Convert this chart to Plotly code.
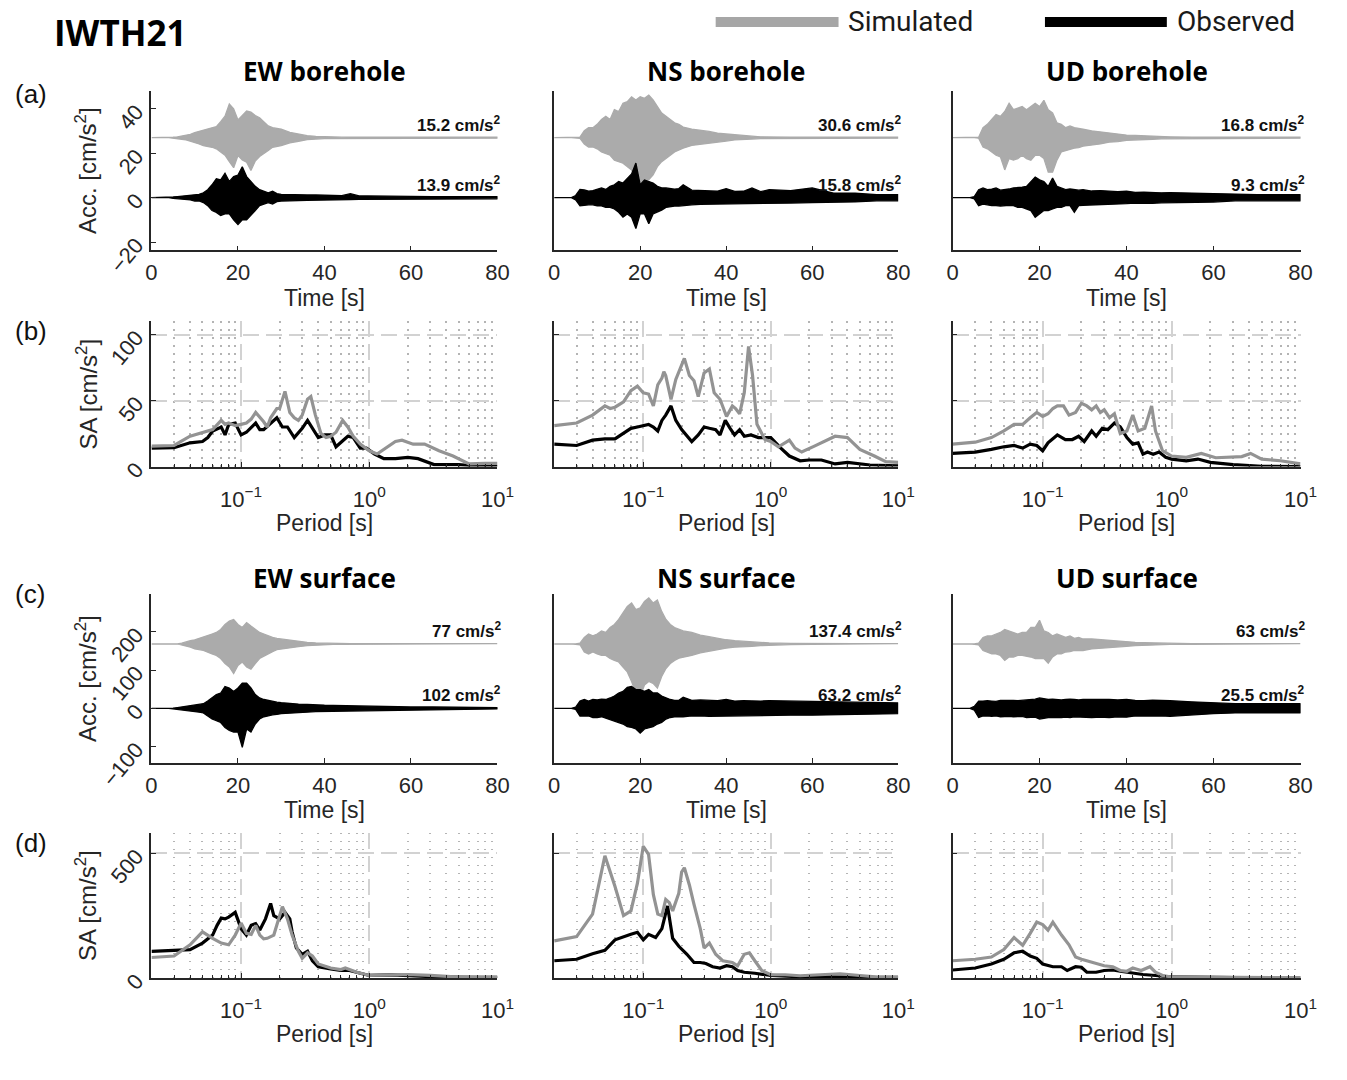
import math
import plotly.graph_objects as go

W, H = 1347, 1080

# ---------------- data: acceleration envelopes (cm/s^2) ----------------
TIME = [0, 4,
        5, 6, 7, 8, 9, 10, 11, 12, 13, 14,
        15, 16, 17, 18, 19, 20, 21, 22, 23, 24,
        25, 26, 27, 28, 29, 30,
        32, 34, 36, 38, 40, 42, 44, 46, 48, 50,
        55, 60, 65, 70, 75, 80]

EW_BH_SIM_UP = [0, 0,
                0.2, 0.4, 0.7, 1.0, 1.5, 2.3, 2.8, 3.5, 3.8, 4.5,
                5.0, 7.2, 9.7, 15.2, 13.0, 8.0, 10.0, 12.0, 11.5, 10.0,
                9.0, 7.0, 5.3, 4.5, 4.0, 3.8,
                2.4, 1.6, 0.9, 0.6, 0.4, 0.3, 0.25, 0.2, 0.2, 0.2,
                0.2, 0.2, 0.2, 0.2, 0.2, 0.2]
EW_BH_SIM_LO = [0, 0,
                -0.2, -0.4, -0.7, -1.0, -1.5, -2.2, -2.8, -3.6, -4.0, -4.3,
                -5.0, -6.4, -7.9, -10.8, -13.5, -8.0, -10.0, -11.0, -14.8, -10.5,
                -8.5, -7.0, -5.8, -4.3, -4.0, -3.6,
                -2.3, -1.6, -0.9, -0.6, -0.4, -0.3, -0.25, -0.2, -0.2, -0.2,
                -0.2, -0.2, -0.2, -0.2, -0.2, -0.2]
EW_BH_OBS_UP = [0, 0,
                0.3, 0.5, 0.7, 0.9, 1.0, 1.5, 1.5, 2.2, 3.6, 5.8,
                8.5, 8.0, 11.0, 7.3, 9.5, 10.2, 13.9, 9.5, 7.3, 5.1,
                3.6, 2.9, 2.2, 2.9, 1.8, 1.5,
                1.3, 1.3, 1.2, 1.2, 1.0, 0.9, 0.9, 1.8, 0.8, 0.8,
                0.6, 0.6, 0.5, 0.5, 0.5, 0.5]
EW_BH_OBS_LO = [0, 0,
                -0.3, -0.5, -0.7, -0.9, -1.0, -1.5, -1.5, -2.2, -3.6, -5.8,
                -6.6, -8.0, -7.3, -7.3, -10.0, -12.1, -10.0, -10.0, -8.0, -5.8,
                -3.6, -2.9, -2.2, -2.9, -1.8, -1.5,
                -1.3, -1.3, -1.2, -1.2, -1.0, -0.9, -0.9, -0.9, -0.8, -0.8,
                -0.6, -0.6, -0.5, -0.5, -0.5, -0.5]

NS_BH_SIM_UP = [0, 0,
                0, 0.3, 3.1, 4.5, 4.5, 6.0, 8.2, 9.6, 8.2, 12.6,
                11.8, 15.5, 16.2, 18.4, 17.0, 18.4, 17.7, 19.2, 17.0, 14.0,
                11.1, 9.6, 8.2, 6.7, 6.0, 4.8,
                3.8, 3.4, 2.8, 2.0, 1.6, 1.2, 0.9, 0.7, 0.4, 0.3,
                0.2, 0.2, 0.2, 0.2, 0.2, 0.2]
NS_BH_SIM_LO = [0, 0,
                0, -0.3, -2.8, -4.2, -4.2, -5.0, -6.4, -7.2, -7.9, -10.1,
                -10.8, -11.5, -13.0, -14.5, -18.1, -30.6, -19.6, -18.9, -16.7, -13.0,
                -10.8, -9.4, -7.9, -6.4, -5.7, -4.7,
                -3.5, -3.2, -2.6, -2.0, -1.5, -1.0, -0.7, -0.6, -0.4, -0.3,
                -0.2, -0.2, -0.2, -0.2, -0.2, -0.2]
NS_BH_OBS_UP = [0, 0,
                1.0, 3.7, 3.5, 2.9, 3.2, 3.7, 4.4, 3.7, 5.1, 5.8,
                7.3, 6.6, 8.8, 10.7, 15.6, 5.8, 8.0, 7.3, 6.6, 5.1,
                4.4, 4.4, 4.1, 3.8, 4.1, 5.8,
                3.4, 3.2, 3.0, 2.9, 4.1, 2.8, 2.9, 4.4, 2.7, 3.6,
                3.2, 4.4, 2.0, 2.0, 1.4, 1.4]
NS_BH_OBS_LO = [0, 0,
                -1.0, -3.7, -3.5, -3.2, -3.2, -3.7, -3.7, -4.4, -4.4, -5.1,
                -6.6, -8.8, -7.3, -8.8, -13.9, -7.3, -7.3, -11.7, -7.3, -6.6,
                -5.6, -4.4, -4.1, -3.8, -3.8, -3.8,
                -3.2, -3.0, -2.8, -2.8, -2.8, -2.7, -2.7, -2.5, -2.5, -2.5,
                -2.4, -2.2, -1.9, -1.9, -1.4, -1.4]

UD_BH_SIM_UP = [0, 0,
                0, 0.2, 4.5, 6.0, 8.2, 10.4, 9.6, 11.8, 15.5, 12.6,
                13.3, 14.0, 12.6, 14.0, 15.5, 14.0, 16.8, 12.6, 11.1, 6.7,
                6.0, 4.5, 5.3, 4.5, 4.3, 3.8,
                3.1, 2.6, 2.0, 1.6, 1.2, 1.0, 0.8, 0.7, 0.5, 0.4,
                0.2, 0.2, 0.2, 0.2, 0.2, 0.2]
UD_BH_SIM_LO = [0, 0,
                0, -0.2, -4.2, -5.0, -6.4, -7.9, -8.6, -14.5, -9.4, -10.1,
                -9.4, -7.9, -9.4, -10.1, -7.9, -7.9, -9.4, -15.5, -15.5, -10.1,
                -6.4, -5.7, -5.3, -4.7, -4.5, -3.8,
                -3.2, -2.8, -2.0, -1.8, -1.2, -1.0, -0.8, -0.7, -0.5, -0.4,
                -0.2, -0.2, -0.2, -0.2, -0.2, -0.2]
UD_BH_OBS_UP = [0, 0,
                0.5, 3.6, 4.4, 3.6, 3.8, 4.4, 3.4, 3.6, 3.9, 4.4,
                4.4, 4.7, 5.1, 7.3, 9.3, 8.0, 7.3, 5.1, 8.8, 5.1,
                4.4, 3.6, 3.9, 3.6, 3.4, 3.6,
                3.0, 3.2, 2.9, 2.7, 2.9, 2.4, 2.5, 2.3, 2.2, 2.3,
                2.0, 2.0, 1.4, 1.4, 1.4, 1.4]
UD_BH_OBS_LO = [0, 0,
                -0.5, -3.6, -2.9, -3.2, -3.6, -3.6, -3.8, -3.6, -3.4, -3.6,
                -4.4, -4.4, -5.1, -5.8, -8.8, -7.3, -5.8, -5.8, -5.1, -4.4,
                -4.4, -3.6, -3.6, -6.6, -3.6, -3.4,
                -3.0, -2.9, -3.0, -2.8, -2.7, -2.4, -2.3, -2.5, -2.3, -2.2,
                -2.0, -2.0, -1.4, -1.4, -1.4, -1.4]

EW_SF_SIM_UP = [0, 0,
                0, 0, 2, 6, 8.5, 11, 14.5, 17, 21, 26,
                30, 38, 51, 60, 64, 51, 43, 56, 47, 38,
                30, 26, 21, 17, 14.5, 13,
                9.4, 7, 4.3, 2.6, 1.7, 1.2, 1.0, 0.8, 0.8, 0.8,
                0.8, 0.8, 0.8, 0.8, 0.8, 0.8]
EW_SF_SIM_LO = [0, 0,
                0, 0, -2, -6, -8.5, -13, -14.5, -17, -21, -26,
                -30, -38, -51, -60, -77, -56, -47, -60, -66, -51,
                -38, -30, -26, -20, -15, -13,
                -10, -7, -4.3, -2.6, -1.7, -1.2, -1.0, -0.8, -0.8, -0.8,
                -0.8, -0.8, -0.8, -0.8, -0.8, -0.8]
EW_SF_OBS_UP = [0, 0,
                0.5, 2, 3.5, 5, 7, 8.5, 10, 12, 19, 27,
                36, 40, 57, 53, 44, 53, 66, 66, 53, 36,
                27, 23, 20, 17, 16, 14.5,
                12, 11, 10, 8.5, 8, 7.5, 7, 7, 6, 5,
                5, 3.5, 3.5, 2.6, 2.5, 1.7]
EW_SF_OBS_LO = [0, 0,
                -0.5, -2, -3.5, -5, -7, -8.5, -10, -12, -20, -28,
                -32, -37, -50, -58, -62, -62, -102, -54, -62, -41,
                -28, -22, -20, -17, -16, -14,
                -12, -11, -10, -8.5, -7, -7, -6.5, -6.5, -6, -5,
                -5, -3.5, -3.5, -2.6, -2.5, -1.7]

NS_SF_SIM_UP = [0, 0,
                0, 2, 17, 26, 21, 26, 34, 30, 43, 51,
                64, 81, 98, 107, 90, 94, 111, 120, 107, 115,
                85, 64, 51, 43, 38, 34,
                30, 23, 19, 14.5, 11, 8.5, 7, 6, 4.3, 2.6,
                1.5, 0.8, 0.8, 0.8, 0.8, 0.8]
NS_SF_SIM_LO = [0, 0,
                0, -2, -21, -26, -21, -26, -30, -30, -38, -43,
                -47, -60, -73, -98, -128, -137, -107, -98, -103, -115,
                -85, -64, -51, -43, -37, -34,
                -30, -23, -19, -14.5, -11, -8.5, -7, -6, -4.3, -2.6,
                -1.5, -0.8, -0.8, -0.8, -0.8, -0.8]
NS_SF_OBS_UP = [0, 0,
                3, 19, 23, 19, 23, 22, 24, 23, 27, 32,
                40, 44, 55, 57, 49, 49, 44, 49, 40, 40,
                32, 27, 23, 21, 21, 29,
                21, 22, 21, 20, 23, 19, 20, 19, 19, 20,
                19, 19, 17, 17, 15, 14]
NS_SF_OBS_LO = [0, 0,
                -3, -20, -20, -20, -24, -24, -22, -24, -28, -32,
                -37, -41, -48, -50, -54, -65, -54, -50, -48, -41,
                -37, -28, -24, -22, -22, -22,
                -20, -20, -21, -20, -20, -19, -19, -18, -19, -19,
                -18, -18, -17, -17, -15, -14]

UD_SF_SIM_UP = [0, 0,
                0, 2, 17, 21, 21, 26, 30, 38, 34, 30,
                26, 30, 30, 43, 43, 62, 34, 30, 21, 26,
                21, 17, 21, 14.5, 17, 13,
                13, 11, 8.5, 7, 6, 4.3, 3.4, 2.6, 1.7, 1.2,
                0.8, 0.8, 0.8, 0.8, 0.8, 0.8]
UD_SF_SIM_LO = [0, 0,
                0, -2, -17, -21, -26, -26, -30, -43, -34, -34,
                -30, -30, -32, -34, -38, -38, -38, -50, -34, -26,
                -26, -21, -20, -17, -17, -17,
                -13, -11, -10, -8, -6, -4.3, -3.4, -2.6, -1.7, -1.2,
                -0.8, -0.8, -0.8, -0.8, -0.8, -0.8]
UD_SF_OBS_UP = [0, 0,
                5, 19, 19, 20, 19, 18, 21, 21, 22, 21,
                20, 21, 23, 23, 24, 27, 25, 23, 24, 23,
                22, 23, 24, 23, 22, 23,
                23, 24, 23, 22, 23, 21, 20, 21, 21, 20,
                17, 14.5, 12, 12, 12, 12]
UD_SF_OBS_LO = [0, 0,
                -5, -24, -20, -20, -21, -20, -22, -22, -21, -22,
                -22, -21, -24, -24, -23, -28, -26, -24, -23, -24,
                -24, -23, -24, -22, -24, -23,
                -24, -23, -24, -22, -23, -20, -21, -20, -20, -21,
                -17, -14, -12, -12, -12, -12]

SIM_OFFSET_BH = 27
SIM_OFFSET_SF = 168

SIM_PGA_BH = ["15.2", "30.6", "16.8"]
OBS_PGA_BH = ["13.9", "15.8", "9.3"]
SIM_PGA_SF = ["77", "137.4", "63"]
OBS_PGA_SF = ["102", "63.2", "25.5"]

# ---------------- data: response spectra (cm/s^2) ----------------
EW_BH_SA_SIM_P = [0.02, 0.03, 0.04, 0.05, 0.06, 0.07, 0.075, 0.08, 0.09, 0.1,
                  0.11, 0.12, 0.13, 0.15, 0.16, 0.17, 0.19, 0.2, 0.22, 0.24,
                  0.26, 0.28, 0.3, 0.33, 0.35, 0.38, 0.42, 0.46, 0.5, 0.55,
                  0.62, 0.68, 0.75, 0.85, 1.0, 1.15, 1.3, 1.6, 1.8, 2.2,
                  2.7, 3.5, 4.5, 6, 8, 10]
EW_BH_SA_SIM = [15.5, 16, 23, 26, 28, 35, 32, 33, 31, 32,
                33, 36, 41, 34, 30, 37, 44, 44, 57, 41,
                37, 35, 39, 51, 53, 39, 25, 22, 23, 26,
                35, 30, 23, 17, 12, 9.5, 13, 19, 20, 17,
                17, 12, 8, 2, 2.5, 2.5]
EW_BH_SA_OBS_P = [0.02, 0.03, 0.04, 0.05, 0.055, 0.06, 0.07, 0.075, 0.08, 0.09,
                  0.1, 0.11, 0.13, 0.14, 0.15, 0.17, 0.19, 0.21, 0.23, 0.26,
                  0.3, 0.33, 0.36, 0.4, 0.45, 0.5, 0.55, 0.6, 0.68, 0.75,
                  0.85, 0.95, 1.1, 1.3, 1.6, 2.0, 2.4, 3.2, 5, 7, 10]
EW_BH_SA_OBS = [14, 14.3, 18, 19, 22, 27, 30, 24, 32, 33,
                24, 26, 33, 28, 28, 33, 37, 30, 30, 22,
                29, 35, 29, 22, 24, 24, 15, 18, 23, 22,
                14, 14, 9.5, 6, 6, 7, 6, 1.5, 1.5, 0.2, 0]

NS_BH_SA_SIM_P = [0.02, 0.03, 0.04, 0.05, 0.055, 0.06, 0.07, 0.08, 0.09, 0.1,
                  0.11, 0.12, 0.13, 0.14, 0.145, 0.15, 0.165, 0.18, 0.21, 0.23,
                  0.25, 0.27, 0.3, 0.33, 0.36, 0.4, 0.45, 0.5, 0.53, 0.57,
                  0.62, 0.67, 0.72, 0.78, 0.9, 1.0, 1.15, 1.4, 1.55, 1.75,
                  2.2, 2.8, 3.2, 4.0, 5.0, 6.5, 8, 10]
NS_BH_SA_SIM = [31, 33, 39, 46, 44, 45, 49, 57.5, 61, 56,
                55, 46, 62, 67, 72, 69, 51, 66, 82, 69,
                65, 53, 71, 74, 56, 51, 38, 46, 44, 40,
                56, 91, 69, 32, 20.5, 19, 15, 20, 14, 11,
                15.5, 20.5, 23, 22, 13, 8, 3.7, 3.2]
NS_BH_SA_OBS_P = [0.02, 0.03, 0.04, 0.05, 0.06, 0.07, 0.08, 0.09, 0.1, 0.11,
                  0.12, 0.13, 0.14, 0.15, 0.165, 0.18, 0.2, 0.22, 0.24, 0.27,
                  0.3, 0.33, 0.37, 0.4, 0.44, 0.48, 0.52, 0.57, 0.62, 0.7,
                  0.8, 0.9, 1.0, 1.2, 1.4, 1.7, 2.0, 2.5, 3.2, 4, 6, 10]
NS_BH_SA_OBS = [17, 16, 20, 21, 21, 25, 29, 30, 31, 32,
                30, 27, 35, 39, 46, 35, 28, 23, 19, 24,
                30, 29, 28, 24, 35, 29, 24, 28, 23, 24,
                22, 22, 22, 14, 8, 4.4, 5, 5, 2, 3.2, 1.2, 0.5]

UD_BH_SA_SIM_P = [0.02, 0.03, 0.04, 0.05, 0.06, 0.07, 0.08, 0.09, 0.1, 0.11,
                  0.12, 0.13, 0.145, 0.16, 0.18, 0.2, 0.22, 0.24, 0.26, 0.28,
                  0.3, 0.33, 0.36, 0.4, 0.45, 0.5, 0.55, 0.62, 0.7, 0.75,
                  0.85, 1.0, 1.3, 1.7, 2.2, 3, 3.5, 4.1, 5, 7, 10]
UD_BH_SA_SIM = [17, 18.5, 22, 27, 32, 32, 37, 41, 38, 40,
                44, 46, 46, 39, 41, 48, 46, 43, 46, 41,
                43, 37, 40, 25, 27, 39, 27, 29, 46, 27,
                12, 8, 7, 10, 6.7, 7.4, 7.6, 10, 5.7, 4.4, 2]
UD_BH_SA_OBS_P = [0.02, 0.03, 0.04, 0.05, 0.06, 0.07, 0.08, 0.09, 0.1, 0.11,
                  0.13, 0.15, 0.17, 0.19, 0.21, 0.24, 0.26, 0.29, 0.32, 0.36,
                  0.4, 0.45, 0.5, 0.55, 0.6, 0.65, 0.72, 0.8, 0.9, 1.0,
                  1.3, 1.6, 2, 3, 5, 10]
UD_BH_SA_OBS = [10, 11, 13, 15, 16, 14, 17, 16, 12, 18,
                24, 20.5, 20.5, 23, 19, 27, 23, 29, 28, 33,
                30, 22, 17, 18, 9.4, 11, 9.4, 11, 7, 5.7,
                4.4, 5.7, 3.2, 1.5, 0.2, 0]

EW_SF_SA_SIM_P = [0.02, 0.03, 0.04, 0.05, 0.06, 0.07, 0.08, 0.09, 0.1, 0.11,
                  0.12, 0.13, 0.14, 0.15, 0.16, 0.18, 0.2, 0.21, 0.23, 0.25,
                  0.28, 0.3, 0.33, 0.36, 0.4, 0.5, 0.6, 0.65, 0.8, 1.0,
                  1.5, 2, 3, 5, 10]
EW_SF_SA_SIM = [82, 88, 133, 185, 159, 140, 133, 172, 220, 179,
                175, 211, 172, 157, 159, 172, 250, 286, 237, 172,
                107, 79, 101, 88, 56, 40, 34, 40, 23, 10,
                12, 14, 10, 4, 4]
EW_SF_SA_OBS_P = [0.02, 0.03, 0.04, 0.05, 0.06, 0.065, 0.07, 0.075, 0.08, 0.09,
                  0.1, 0.11, 0.12, 0.13, 0.14, 0.155, 0.17, 0.18, 0.2, 0.22,
                  0.24, 0.25, 0.27, 0.3, 0.33, 0.36, 0.4, 0.5, 0.6, 0.7,
                  0.9, 1.0, 1.5, 2.2, 3.5, 10]
EW_SF_SA_OBS = [107, 110, 114, 140, 172, 211, 240, 237, 244, 263,
                198, 172, 211, 218, 192, 237, 299, 250, 237, 263,
                237, 185, 120, 95, 107, 69, 45, 36, 30, 30,
                17, 10, 12, 9, 4, 0]

NS_SF_SA_SIM_P = [0.02, 0.03, 0.04, 0.045, 0.05, 0.06, 0.07, 0.08, 0.09, 0.1,
                  0.11, 0.12, 0.13, 0.14, 0.15, 0.16, 0.17, 0.19, 0.2, 0.21,
                  0.23, 0.25, 0.28, 0.3, 0.33, 0.37, 0.42, 0.5, 0.55, 0.62,
                  0.68, 0.75, 0.85, 1.0, 1.3, 1.7, 2.5, 3.5, 5, 7, 10]
NS_SF_SA_SIM = [149, 166, 256, 380, 490, 367, 250, 269, 380, 528,
                496, 334, 256, 250, 315, 302, 269, 340, 425, 442,
                373, 295, 198, 120, 140, 95, 69, 62, 49, 95,
                101, 69, 30, 13, 13, 9, 14, 17, 10, 4, 4]
NS_SF_SA_OBS_P = [0.02, 0.03, 0.04, 0.05, 0.06, 0.07, 0.08, 0.09, 0.1, 0.11,
                  0.125, 0.14, 0.155, 0.17, 0.19, 0.22, 0.25, 0.28, 0.31, 0.35,
                  0.4, 0.45, 0.5, 0.55, 0.62, 0.75, 1.0, 1.5, 3, 10]
NS_SF_SA_OBS = [69, 75, 97, 111, 153, 166, 175, 183, 153, 175,
                162, 198, 289, 159, 127, 95, 62, 62, 58, 45,
                40, 49, 45, 30, 23, 19, 10, 6, 4, 0]

UD_SF_SA_SIM_P = [0.02, 0.03, 0.04, 0.05, 0.06, 0.07, 0.08, 0.09, 0.1, 0.11,
                  0.12, 0.14, 0.16, 0.18, 0.2, 0.25, 0.3, 0.35, 0.4, 0.45,
                  0.5, 0.58, 0.68, 0.75, 0.85, 1.0, 2, 4, 10]
UD_SF_SA_SIM = [69, 75, 84, 114, 162, 131, 179, 224, 214, 192,
                224, 172, 133, 84, 75, 62, 49, 45, 30, 27,
                40, 30, 45, 23, 10, 4, 4, 4, 1]
UD_SF_SA_OBS_P = [0.02, 0.03, 0.04, 0.05, 0.06, 0.07, 0.08, 0.09, 0.1, 0.12,
                  0.14, 0.155, 0.18, 0.2, 0.22, 0.26, 0.3, 0.35, 0.4, 0.5,
                  0.6, 0.75, 1.0, 3, 10]
UD_SF_SA_OBS = [32, 40, 56, 75, 101, 107, 88, 79, 56, 45,
                45, 30, 45, 43, 23, 23, 30, 32, 27, 19,
                14, 10, 4, 1, 0]

COMPONENTS = ["EW", "NS", "UD"]
ACC_TICKS_BH = [-20, 0, 20, 40]
ACC_TICKS_SF = [-100, 0, 100, 200]
SA_TICKS_BH = [0, 50, 100]
SA_TICKS_SF = [0, 500]

# ---------------- styling / layout ----------------
SANS = "Liberation Sans, Arial, sans-serif"
BOLD = "Open Sans, sans-serif"
AX = "#262626"
SIM_ACC_C = "#ababab"
SIM_SA_C = "#939393"
OBS_C = "#000000"
MAJOR_GRID = "#d2d2d2"
MINOR_GRID = "#b4b4b4"


def px(xp):
    return xp / W


def py(yp):
    return 1 - yp / H


COL_X = [(148, 500), (557.7, 907.7), (963, 1317)]
ROW_Y = [(93, 257), (330, 479), (610, 783), (855, 1004)]
Y_RANGES = [[-23.7, 48.2], [0, 110], [-142, 298], [0, 582]]

acc_sets = [
    [(EW_BH_SIM_UP, EW_BH_SIM_LO, EW_BH_OBS_UP, EW_BH_OBS_LO),
     (NS_BH_SIM_UP, NS_BH_SIM_LO, NS_BH_OBS_UP, NS_BH_OBS_LO),
     (UD_BH_SIM_UP, UD_BH_SIM_LO, UD_BH_OBS_UP, UD_BH_OBS_LO)],
    [(EW_SF_SIM_UP, EW_SF_SIM_LO, EW_SF_OBS_UP, EW_SF_OBS_LO),
     (NS_SF_SIM_UP, NS_SF_SIM_LO, NS_SF_OBS_UP, NS_SF_OBS_LO),
     (UD_SF_SIM_UP, UD_SF_SIM_LO, UD_SF_OBS_UP, UD_SF_OBS_LO)],
]
sa_sets = [
    [(EW_BH_SA_SIM_P, EW_BH_SA_SIM, EW_BH_SA_OBS_P, EW_BH_SA_OBS),
     (NS_BH_SA_SIM_P, NS_BH_SA_SIM, NS_BH_SA_OBS_P, NS_BH_SA_OBS),
     (UD_BH_SA_SIM_P, UD_BH_SA_SIM, UD_BH_SA_OBS_P, UD_BH_SA_OBS)],
    [(EW_SF_SA_SIM_P, EW_SF_SA_SIM, EW_SF_SA_OBS_P, EW_SF_SA_OBS),
     (NS_SF_SA_SIM_P, NS_SF_SA_SIM, NS_SF_SA_OBS_P, NS_SF_SA_OBS),
     (UD_SF_SA_SIM_P, UD_SF_SA_SIM, UD_SF_SA_OBS_P, UD_SF_SA_OBS)],
]
offsets = [SIM_OFFSET_BH, SIM_OFFSET_SF]
pga = [(SIM_PGA_BH, OBS_PGA_BH), (SIM_PGA_SF, OBS_PGA_SF)]
acc_ticks = [ACC_TICKS_BH, ACC_TICKS_SF]
sa_ticks = [SA_TICKS_BH, SA_TICKS_SF]

fig = go.Figure()
layout = {}
annotations = []
shapes = []

minor_vals = [k * 10 ** e for e in (-2, -1, 0) for k in range(2, 10)]
tickfont = dict(family=SANS, size=22, color=AX)


def fmt_minus(v):
    return str(v).replace("-", "\u2212")


def band(up, lo, off):
    xs = TIME + TIME[::-1]
    ys = [off + u for u in up] + [off + l for l in lo[::-1]]
    return xs, ys


for row in range(4):
    for col in range(3):
        n = row * 3 + col + 1
        xk = "xaxis" if n == 1 else f"xaxis{n}"
        yk = "yaxis" if n == 1 else f"yaxis{n}"
        xr = "x" if n == 1 else f"x{n}"
        yr = "y" if n == 1 else f"y{n}"
        xd = [px(COL_X[col][0]), px(COL_X[col][1])]
        yd = [py(ROW_Y[row][1]), py(ROW_Y[row][0])]
        is_acc = row in (0, 2)
        grp = row // 2

        if is_acc:
            sim_up, sim_lo, obs_up, obs_lo = acc_sets[grp][col]
            off = offsets[grp]
            xs, ys = band(sim_up, sim_lo, off)
            fig.add_trace(go.Scatter(x=xs, y=ys, xaxis=xr, yaxis=yr, mode="lines",
                                     fill="toself", fillcolor=SIM_ACC_C,
                                     line=dict(color=SIM_ACC_C, width=1.3),
                                     hoverinfo="skip"))
            xs, ys = band(obs_up, obs_lo, 0)
            fig.add_trace(go.Scatter(x=xs, y=ys, xaxis=xr, yaxis=yr, mode="lines",
                                     fill="toself", fillcolor=OBS_C,
                                     line=dict(color=OBS_C, width=1.3),
                                     hoverinfo="skip"))
            ticks = acc_ticks[grp]
            layout[xk] = dict(domain=xd, anchor=yr, range=[0, 80],
                              tickvals=[0, 20, 40, 60, 80], ticks="inside", ticklen=5,
                              tickcolor=AX, showline=True, linecolor=AX, linewidth=1.5,
                              showgrid=False, zeroline=False, tickfont=tickfont,
                              ticklabelstandoff=2)
            layout[yk] = dict(domain=yd, anchor=xr, range=Y_RANGES[row],
                              tickvals=ticks, ticktext=[fmt_minus(t) for t in ticks],
                              tickangle=-50, showticklabels=(col == 0),
                              ticks="inside" if col == 0 else "", ticklen=5, tickcolor=AX,
                              showline=True, linecolor=AX, linewidth=1.5,
                              showgrid=False, zeroline=False, tickfont=tickfont,
                              ticklabelstandoff=9)
            sp, op = pga[grp]
            annotations.append(dict(x=80, y=off, xref=xr, yref=yr, xanchor="right",
                                    yanchor="bottom", xshift=6, yshift=1, showarrow=False,
                                    text=f"<b>{sp[col]} cm/s<sup>2</sup></b>",
                                    font=dict(family=SANS, size=17, color="#111111")))
            annotations.append(dict(x=80, y=0, xref=xr, yref=yr, xanchor="right",
                                    yanchor="bottom", xshift=6, yshift=1, showarrow=False,
                                    text=f"<b>{op[col]} cm/s<sup>2</sup></b>",
                                    font=dict(family=SANS, size=17, color="#111111")))
        else:
            sp_p, sp_v, op_p, op_v = sa_sets[grp][col]
            fig.add_trace(go.Scatter(x=op_p, y=op_v, xaxis=xr, yaxis=yr, mode="lines",
                                     line=dict(color=OBS_C, width=3.2), hoverinfo="skip"))
            fig.add_trace(go.Scatter(x=sp_p, y=sp_v, xaxis=xr, yaxis=yr, mode="lines",
                                     line=dict(color=SIM_SA_C, width=3.2), hoverinfo="skip"))
            ticks = sa_ticks[grp]
            layout[xk] = dict(domain=xd, anchor=yr, type="log",
                              range=[math.log10(0.02), 1],
                              tickvals=[0.1, 1, 10],
                              ticktext=["10<sup>\u22121</sup>", "10<sup>0</sup>", "10<sup>1</sup>"],
                              ticks="inside", ticklen=5, tickcolor=AX,
                              showline=True, linecolor=AX, linewidth=1.5,
                              showgrid=True, gridcolor=MAJOR_GRID, griddash="16px,7px",
                              gridwidth=1.5, zeroline=False, tickfont=tickfont,
                              ticklabelstandoff=12,
                              minor=dict(tickvals=minor_vals, showgrid=True,
                                         gridcolor=MINOR_GRID, griddash="1.5px,6.5px",
                                         gridwidth=1.5,
                                         ticks="inside", ticklen=3, tickcolor=AX))
            layout[yk] = dict(domain=yd, anchor=xr, range=Y_RANGES[row],
                              tickvals=ticks, ticktext=[str(t) for t in ticks],
                              tickangle=-50, showticklabels=(col == 0),
                              ticks="inside", ticklen=5, tickcolor=AX,
                              showline=True, linecolor=AX, linewidth=1.5,
                              showgrid=True, gridcolor=MAJOR_GRID, griddash="16px,7px",
                              gridwidth=1.5, zeroline=False, tickfont=tickfont,
                              ticklabelstandoff=9)

# titles and labels
TITLE_Y = [73, 593]
for grp, kind in enumerate(["borehole", "surface"]):
    for col in range(3):
        cx = (COL_X[col][0] + COL_X[col][1]) / 2
        annotations.append(dict(x=px(cx), y=py(TITLE_Y[grp]), xref="paper", yref="paper",
                                xanchor="center", yanchor="middle", showarrow=False,
                                text=f"<b>{COMPONENTS[col]} {kind}</b>",
                                font=dict(family=BOLD, size=26, color="#000000")))

XTITLE_Y = [306, 537, 832, 1062]
for row in range(4):
    label = "Time [s]" if row in (0, 2) else "Period [s]"
    for col in range(3):
        cx = (COL_X[col][0] + COL_X[col][1]) / 2
        annotations.append(dict(x=px(cx), y=py(XTITLE_Y[row]), xref="paper", yref="paper",
                                xanchor="center", yanchor="middle", showarrow=False,
                                text=label, font=dict(family=SANS, size=23, color=AX)))
    ylabel = "Acc. [cm/s<sup>2</sup>]" if row in (0, 2) else "SA [cm/s<sup>2</sup>]"
    cy = (ROW_Y[row][0] + ROW_Y[row][1]) / 2
    annotations.append(dict(x=px(82), y=py(cy), xref="paper", yref="paper",
                            xanchor="center", yanchor="middle", textangle=-90,
                            showarrow=False, text=ylabel,
                            font=dict(family=SANS, size=24, color=AX)))

LETTER_Y = [96, 340, 610, 865]
for row, letter in enumerate(["(a)", "(b)", "(c)", "(d)"]):
    annotations.append(dict(x=px(7), y=py(LETTER_Y[row]), xref="paper", yref="paper",
                            xanchor="left", yanchor="middle", showarrow=False,
                            text=letter, font=dict(family=SANS, size=26, color="#111111")))

annotations.append(dict(x=px(47), y=py(33), xref="paper", yref="paper",
                        xanchor="left", yanchor="middle", showarrow=False,
                        text="<b>IWTH21</b>", font=dict(family=BOLD, size=35, color="#000000")))

# legend
shapes.append(dict(type="line", xref="paper", yref="paper", x0=px(722), x1=px(847),
                   y0=py(22.5), y1=py(22.5), line=dict(color="#a6a6a6", width=10)))
shapes.append(dict(type="line", xref="paper", yref="paper", x0=px(1057), x1=px(1181),
                   y0=py(22.5), y1=py(22.5), line=dict(color="#000000", width=10)))
annotations.append(dict(x=px(855), y=py(22), xref="paper", yref="paper",
                        xanchor="left", yanchor="middle", showarrow=False,
                        text="Simulated", font=dict(family="Roboto", size=28, color="#1a1a1a")))
annotations.append(dict(x=px(1189), y=py(22), xref="paper", yref="paper",
                        xanchor="left", yanchor="middle", showarrow=False,
                        text="Observed", font=dict(family="Roboto", size=28, color="#1a1a1a")))

fig.update_layout(width=W, height=H, margin=dict(l=0, r=0, t=0, b=0),
                  paper_bgcolor="white", plot_bgcolor="white", showlegend=False,
                  annotations=annotations, shapes=shapes, **layout)

fig.write_html("out.html", config={"displayModeBar": False})
